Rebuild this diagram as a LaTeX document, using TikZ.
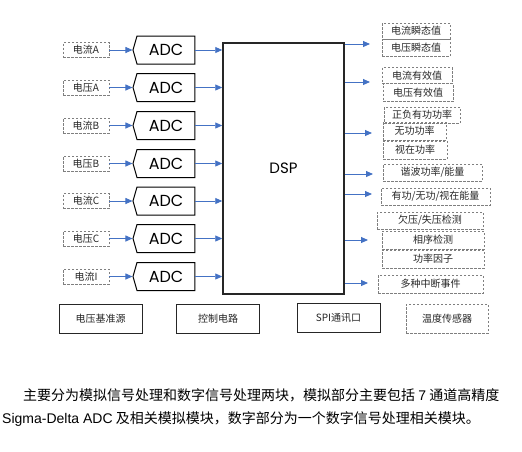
\documentclass[tikz,border=0pt]{standalone}
\usepackage{fontspec}
\setmainfont{Liberation Serif}
\newfontfamily\cjk{Noto Sans CJK SC}
\newfontfamily\arial{Liberation Sans}
\newfontfamily\hand{Poppins}
\usepackage{xcolor}
\definecolor{4472c4}{HTML}{4472C4}
\definecolor{7f7f7f}{HTML}{7F7F7F}
\definecolor{262626}{HTML}{262626}
\usepackage{tikz}
\usetikzlibrary{arrows.meta,shapes.symbols}

\begin{document}
\begin{tikzpicture}[x=1pt, y=-1pt,
    lbl/.style={draw=7f7f7f, dash pattern=on 2.5pt off 1.5pt, line width=0.8pt, inner sep=0pt,
        text=262626, font=\cjk\fontsize{10}{12}\selectfont},
    adcbox/.style={signal, signal to=west, signal pointer angle=148, draw, line width=1pt,
        minimum width=62pt, minimum height=28pt, inner sep=0pt, font=\hand\fontsize{16}{18}\selectfont},
    blk/.style={draw=262626, line width=1pt, minimum width=83pt, minimum height=29pt, inner sep=0pt,
        text=262626, font=\cjk\fontsize{10}{12}\selectfont},
    sig/.style={-{Triangle[length=7pt,width=6pt]}, draw=4472c4, fill=4472c4, line width=0.9pt}]
                        \useasboundingbox (0, 0) rectangle (522, 451);

                        % inputs
                        \node (IA) at (86, 50) [lbl, minimum width=46pt, minimum height=15pt] {电流A};
                        \node (UA) at (86, 87.5) [lbl, minimum width=46pt, minimum height=15pt] {电压A};
                        \node (IB) at (86, 125.5) [lbl, minimum width=46pt, minimum height=15pt] {电流B};
                        \node (UB) at (86, 163.5) [lbl, minimum width=46pt, minimum height=15pt] {电压B};
                        \node (IC) at (86, 201) [lbl, minimum width=46pt, minimum height=15pt] {电流C};
                        \node (UC) at (86, 238.5) [lbl, minimum width=46pt, minimum height=15pt] {电压C};
                        \node (II) at (86, 276.5) [lbl, minimum width=46pt, minimum height=15pt] {电流I};

                        \node (ADC1) at (166, 50) [adcbox] {ADC};
                        \node (ADC2) at (166, 87.5) [adcbox] {ADC};
                        \node (ADC3) at (166, 125.5) [adcbox] {ADC};
                        \node (ADC4) at (166, 163.5) [adcbox] {ADC};
                        \node (ADC5) at (166, 201) [adcbox] {ADC};
                        \node (ADC6) at (166, 238.5) [adcbox] {ADC};
                        \node (ADC7) at (166, 276.5) [adcbox] {ADC};

                        \node (DSP) at (283.5, 168.5) [draw=262626, line width=1.5pt, minimum width=121pt,
                            minimum height=251pt, inner sep=0pt, font=\hand\fontsize{15}{18}\selectfont] {DSP};

                        % outputs
                        \node (R1) at (416, 31) [lbl, minimum width=68pt, minimum height=16pt] {电流瞬态值};
                        \node (R2) at (416, 47.5) [lbl, minimum width=68pt, minimum height=17pt] {电压瞬态值};
                        \node (R3) at (417, 75.5) [lbl, minimum width=70pt, minimum height=16pt] {电流有效值};
                        \node (R4) at (418, 92.5) [lbl, minimum width=70pt, minimum height=18pt] {电压有效值};
                        \node (R5) at (422, 115) [lbl, minimum width=76pt, minimum height=16pt] {正负有功功率};
                        \node (R6) at (414.5, 131) [lbl, minimum width=63pt, minimum height=18pt] {无功功率};
                        \node (R7) at (415, 150) [lbl, minimum width=64pt, minimum height=18pt] {视在功率};
                        \node (R8) at (432.5, 172.5) [lbl, minimum width=99pt, minimum height=17pt] {谐波功率/能量};
                        \node (R9) at (435.5, 196.5) [lbl, minimum width=109pt, minimum height=17pt] {有功/无功/视在能量};
                        \node (R10) at (430, 220.5) [lbl, minimum width=106pt, minimum height=17pt] {欠压/失压检测};
                        \node (R11) at (433, 240) [lbl, minimum width=102pt, minimum height=18pt] {相序检测};
                        \node (R12) at (433, 259) [lbl, minimum width=102pt, minimum height=18pt] {功率因子};
                        \node (R13) at (430.5, 284) [lbl, minimum width=105pt, minimum height=18pt] {多种中断事件};

                        \coordinate (o1) at (370, 44);
                        \coordinate (o2) at (370, 82);
                        \coordinate (o3) at (372, 133);
                        \coordinate (o4) at (373, 174);
                        \coordinate (o5) at (372, 194);
                        \coordinate (o6) at (368, 240);
                        \coordinate (o7) at (368, 283);

                        % other blocks
                        \node (VREF) at (100.5, 318.5) [blk] {电压基准源};
                        \node (CTRL) at (218, 318.5) [blk] {控制电路};
                        \node (SPI) at (338.5, 317.5) [blk] {SPI通讯口};
                        \node (TEMP) at (447, 318.5) [lbl, minimum width=82pt, minimum height=29pt] {温度传感器};

                        \draw[sig] (IA) to (ADC1.west);
                        \draw[sig] (UA) to (ADC2.west);
                        \draw[sig] (IB) to (ADC3.west);
                        \draw[sig] (UB) to (ADC4.west);
                        \draw[sig] (IC) to (ADC5.west);
                        \draw[sig] (UC) to (ADC6.west);
                        \draw[sig] (II) to (ADC7.west);

                        \draw[sig] (ADC1.east) to (ADC1.east -| DSP.west);
                        \draw[sig] (ADC2.east) to (ADC2.east -| DSP.west);
                        \draw[sig] (ADC3.east) to (ADC3.east -| DSP.west);
                        \draw[sig] (ADC4.east) to (ADC4.east -| DSP.west);
                        \draw[sig] (ADC5.east) to (ADC5.east -| DSP.west);
                        \draw[sig] (ADC6.east) to (ADC6.east -| DSP.west);
                        \draw[sig] (ADC7.east) to (ADC7.east -| DSP.west);

                        \draw[sig] (DSP.east |- o1) to (o1);
                        \draw[sig] (DSP.east |- o2) to (o2);
                        \draw[sig] (DSP.east |- o3) to (o3);
                        \draw[sig] (DSP.east |- o4) to (o4);
                        \draw[sig] (DSP.east |- o5) to (o5);
                        \draw[sig] (DSP.east |- o6) to (o6);
                        \draw[sig] (DSP.east |- o7) to (o7);

                        % caption text
                        \node (L1) at (23, 400) [anchor=base west, inner sep=0pt, font=\cjk\fontsize{14}{16}\selectfont]
                            {主要分为模拟信号处理和数字信号处理两块，模拟部分主要包括 {\arial 7} 通道高精度};
                        \node (L2) at (2, 423) [anchor=base west, inner sep=0pt, font=\cjk\fontsize{14}{16}\selectfont]
                            {{\arial Sigma-Delta ADC} 及相关模拟模块，数字部分为一个数字信号处理相关模块。};
                    \end{tikzpicture}
\end{document}
